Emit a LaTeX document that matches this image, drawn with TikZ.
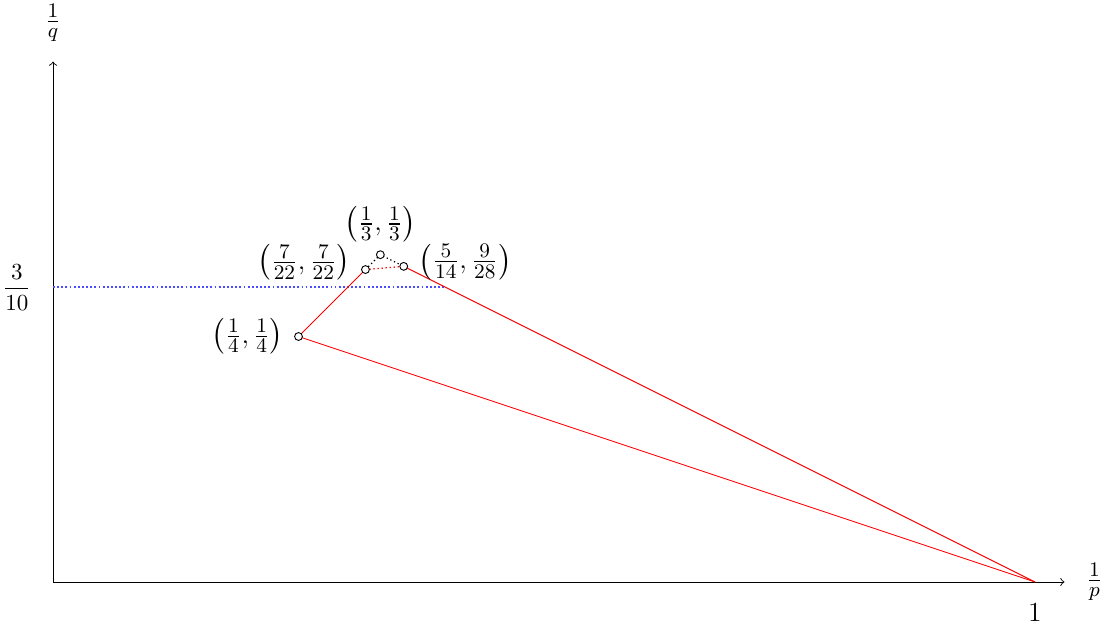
\documentclass[tikz,border=0pt]{standalone}
\usepackage{amsmath,amssymb}
\usetikzlibrary{calc}

\begin{document}
\begin{tikzpicture}[x=15cm,y=15cm,line width=0.4pt,
    pts/.style={font=\fontsize{13}{16}\selectfont},
    dots/.style={line width=0.55pt,dash pattern=on 0.55pt off 1.2pt}]
  \useasboundingbox (-0.054,-0.048) rectangle (1.0754,0.5927);
  \coordinate (O) at (0,0);
  \coordinate (E) at (1,0);
  \coordinate (A) at (1/4,1/4);
  \coordinate (B) at (7/22,7/22);
  \coordinate (C) at (1/3,1/3);
  \coordinate (D) at (5/14,9/28);
  % axes
  \draw[->] (O) -- (1.03,0) node[right=6pt,pts] (xl) {$\frac{1}{p}$};
  \draw[->] (O) -- (0,0.53) node[above=5pt,pts] (yl) {$\frac{1}{q}$};
  \node[below=6pt] (one) at (E) {\large $1$};
  \node[left=6pt] (h) at (0,0.3) {$\dfrac{3}{10}$};
  \draw[blue!70,line width=0.8pt,dash pattern=on 0.8pt off 1pt] (0,0.3) -- (0.4,0.3);
  % the region
  \draw[red] (E) -- (A) -- (B);
  \draw[red,dots] (B) -- (D);
  \draw[red] (D) -- (E);
  \draw[dots] (B) -- (C) -- (D);
  \foreach \p in {A,B,C,D}
    \draw[fill=white] (\p) circle (1.7pt);
  \node[left=3pt,pts] (la) at (A) {$\big(\frac14, \frac14\big)$};
  \node[left=3pt,yshift=3pt,pts] (lb) at (B) {$\big(\frac{7}{22}, \frac{7}{22}\big)$};
  \node[above=2pt,pts] (lc) at (C) {$\big(\frac13, \frac13\big)$};
  \node[right=3pt,yshift=2pt,pts] (ld) at (D) {$\big(\frac{5}{14}, \frac{9}{28}\big)$};
\end{tikzpicture}
\end{document}
